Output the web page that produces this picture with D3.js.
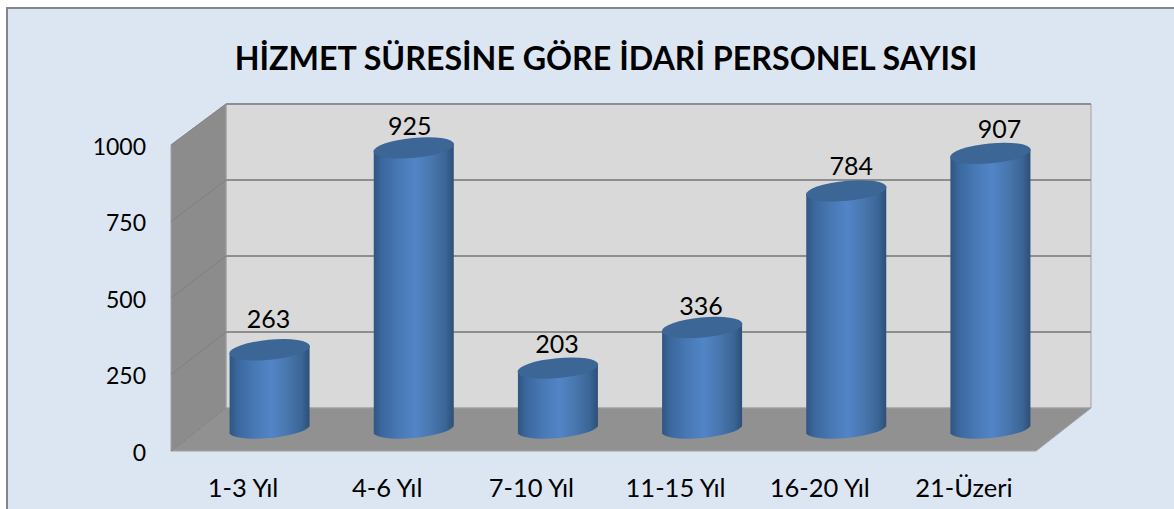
<!DOCTYPE html>
<html><head><meta charset="utf-8">
<script src="https://cdn.jsdelivr.net/npm/d3@7/dist/d3.min.js"></script>
<style>html,body{margin:0;padding:0;background:#fff;overflow:hidden}svg{display:block}text{font-family:Lato,"Open Sans",sans-serif;fill:#000}</style>
</head><body><svg id="c" width="1174" height="509"></svg>
<script>
const categories = ["1-3 Yıl","4-6 Yıl","7-10 Yıl","11-15 Yıl","16-20 Yıl","21-Üzeri"];
const values = [263,925,203,336,784,907];
const yTicks = [0,250,500,750,1000];
const title = "HİZMET SÜRESİNE GÖRE İDARİ PERSONEL SAYISI";
const labelNudgeX = [-1,-4,-1,-1,5,9];
const labelNudgeY = [-6,3,1,3,0,1];

const svg = d3.select("#c");
const W=1174,H=509;
const depthX=55;
const x = d3.scaleBand().domain(categories).range([171,1036]);
const yFront = d3.scaleLinear().domain([0,1000]).range([451,145]);
const yBack = d3.scaleLinear().domain([0,1000]).range([408,104]);
const yBar = d3.scaleLinear().domain([0,1000]).range([430,125]);
const xL=x.range()[0], xR=x.range()[1];
const barCx = i => x(categories[i])+x.bandwidth()/2+depthX/2-1;

svg.append("rect").attr("x",7).attr("y",8).attr("width",W).attr("height",H)
  .attr("fill","#dce6f2").attr("stroke","#868686").attr("stroke-width",2);

svg.append("text").attr("x",606).attr("y",70).attr("text-anchor","middle")
  .attr("font-size",32.2).attr("font-weight",700).text(title);

const defs = svg.append("defs");
const grad = defs.append("linearGradient").attr("id","cyl");
[[0,"#2f5683"],[0.1,"#3a679d"],[0.3,"#4778b3"],[0.52,"#5285c7"],[0.72,"#4876ae"],[0.9,"#3a6595"],[1,"#2c4f78"]]
  .forEach(s=>grad.append("stop").attr("offset",s[0]).attr("stop-color",s[1]));
const lineGrey="#a0a0a0";

// walls and floor
svg.append("polygon").attr("fill","#d9d9d9").attr("stroke",lineGrey).attr("stroke-width",1)
  .attr("points",[[xL+depthX,yBack(0)],[xL+depthX,yBack(1000)],[xR+depthX,yBack(1000)],[xR+depthX,yBack(0)]].join(" "));
svg.append("polygon").attr("fill","#8c8c8c").attr("stroke",lineGrey).attr("stroke-width",1)
  .attr("points",[[xL,yFront(0)],[xL,yFront(1000)],[xL+depthX,yBack(1000)],[xL+depthX,yBack(0)]].join(" "));
svg.append("polygon").attr("fill","#919191").attr("stroke",lineGrey).attr("stroke-width",1)
  .attr("points",[[xL,yFront(0)],[xL+depthX,yBack(0)],[xR+depthX,yBack(0)],[xR,yFront(0)]].join(" "));

// gridlines
yTicks.slice(1).forEach(t=>{
  svg.append("line").attr("x1",xL+depthX).attr("x2",xR+depthX).attr("y1",yBack(t)).attr("y2",yBack(t))
    .attr("stroke","#8e8e8e").attr("stroke-width",2);
});
yTicks.forEach(t=>{
  svg.append("line").attr("x1",xL).attr("x2",xL+depthX).attr("y1",yFront(t)).attr("y2",yBack(t))
    .attr("stroke","#7f7f7f").attr("stroke-width",1);
});

// cylinders
const rx=40, ry=10, tilt=-5.5;
const dy=Math.tan(tilt*Math.PI/180)*rx;
const bars = svg.append("g").selectAll("g").data(values).join("g")
  .attr("transform",(d,i)=>`translate(${barCx(i)},0)`);
bars.append("path").attr("fill","url(#cyl)").attr("d",d=>{
  const t=yBar(d), b=yBar(0);
  return `M${-rx},${t-dy} L${-rx},${b-dy} A${rx+1},${ry} ${tilt} 0 0 ${rx},${b+dy} L${rx},${t+dy} A${rx+1},${ry} ${tilt} 0 0 ${-rx},${t-dy}Z`;
});
bars.append("ellipse").attr("rx",rx+0.5).attr("ry",ry).attr("cy",d=>yBar(d))
  .attr("transform",d=>`rotate(${tilt} 0 ${yBar(d)})`).attr("fill","#3b6695");

// data labels
svg.append("g").selectAll("text").data(values).join("text")
  .attr("x",(d,i)=>barCx(i)+labelNudgeX[i])
  .attr("y",(d,i)=>yBar(d)-16+labelNudgeY[i])
  .attr("text-anchor","middle").attr("font-size",25).text(d=>d);

// axes
const axL = svg.append("g").attr("transform","translate(146,0)")
  .call(d3.axisLeft(yFront).tickValues(yTicks).tickFormat(d3.format("d")).tickSize(0).tickPadding(0));
axL.select(".domain").remove();
axL.selectAll("text").attr("font-size",23).attr("font-family","Lato").attr("fill","#000").attr("dy","0.4em");

const axB = svg.append("g").attr("transform","translate(0,451)")
  .call(d3.axisBottom(x).tickSize(0).tickPadding(28));
axB.select(".domain").remove();
axB.selectAll("text").attr("font-size",25.5).attr("font-family","Lato").attr("fill","#000");
</script></body></html>
